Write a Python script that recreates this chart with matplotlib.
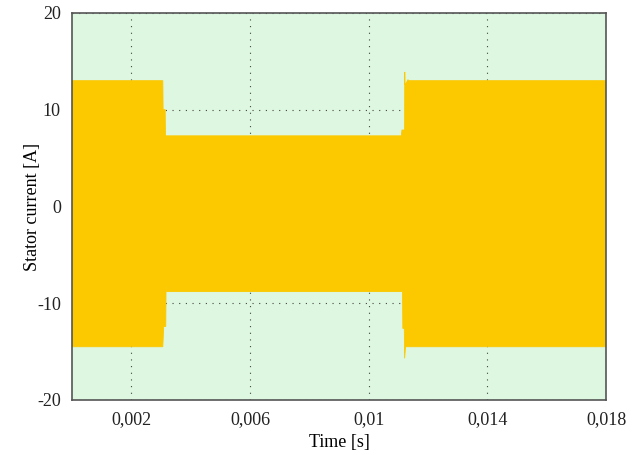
import numpy as np
import matplotlib
matplotlib.use('Agg')
import matplotlib.pyplot as plt

# envelope of the stator current
t_upper = [0, 0.00306, 0.00307, 0.00314, 0.00315, 0.01110, 0.01112, 0.01121,
           0.011215, 0.01122, 0.01124, 0.01132, 0.01136, 0.018]
i_upper = [13.0, 13.0, 10.0, 10.0, 7.3, 7.3, 7.9, 7.9,
           13.9, 12.6, 12.6, 13.1, 13.0, 13.0]

t_lower = [0, 0.00306, 0.00309, 0.00316,
           0.00317, 0.00320, 0.01114, 0.01115, 0.01120, 0.01121,
           0.01124, 0.018]
i_lower = [-14.5, -14.5, -12.4, -12.4,
           -8.2, -8.8, -8.8, -12.6, -12.6, -15.7,
           -14.5, -14.5]

xticks = [0.002, 0.006, 0.01, 0.014, 0.018]
xlabels = ["0,002", "0,006", "0,01", "0,014", "0,018"]
yticks = [-20, -10, 0, 10, 20]

plt.rcParams['font.family'] = ['Liberation Serif', 'DejaVu Serif']
plt.rcParams['axes.unicode_minus'] = False

fig = plt.figure(figsize=(6.4, 4.55), dpi=100)
ax = fig.add_axes([0.1125, 0.121, 0.8345, 0.8505])
ax.set_facecolor('#ddf7e0')

ax.grid(True, linestyle=(0, (1, 5)), color='#444444', linewidth=0.8)
ax.set_axisbelow(True)

poly_t = np.concatenate([t_upper, t_lower[::-1]])
poly_i = np.concatenate([i_upper, i_lower[::-1]])
ax.fill(poly_t, poly_i, color='#fcc800', linewidth=0.6, edgecolor='#fcc800', zorder=2)

ax.set_xlim(0, 0.018)
ax.set_ylim(-20, 20)
ax.set_xticks(xticks)
ax.set_xticklabels(xlabels)
ax.set_yticks(yticks)
ax.tick_params(length=0, labelsize=13, colors='#222222', pad=8)

for s in ax.spines.values():
    s.set_color('#555555')
    s.set_linewidth(1.2)

ax.set_xlabel("Time [s]", fontsize=13, labelpad=4)
ax.set_ylabel("Stator current [A]", fontsize=13, labelpad=-3)

plt.savefig("out.png")
